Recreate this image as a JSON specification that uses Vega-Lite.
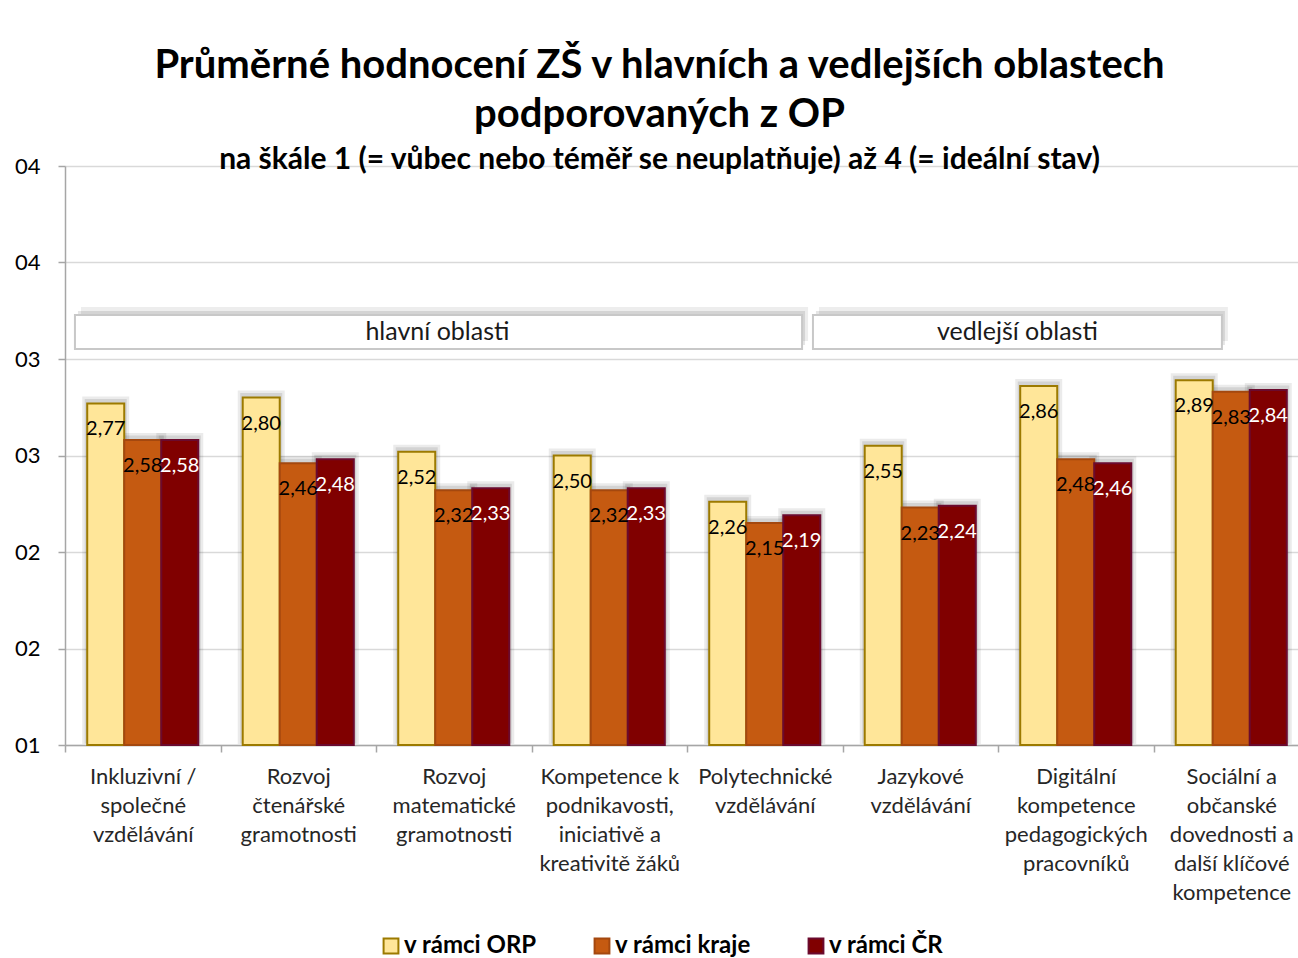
{
  "$schema": "https://vega.github.io/schema/vega-lite/v6.json",
  "width": 1233,
  "height": 579,
  "autosize": {"type": "none"},
  "padding": {"left": 65, "top": 166, "right": 0, "bottom": 213},
  "background": "white",
  "config": {
    "locale": {"number": {"decimal": ",", "thousands": " ", "grouping": [3], "currency": ["", " Kč"]}},
    "view": {"stroke": null},
    "font": "Lato"
  },
  "title": {
    "text": ["Průměrné hodnocení ZŠ v hlavních a vedlejších oblastech", "podporovaných z OP"],
    "subtitle": "na škále 1 (= vůbec nebo téměř se neuplatňuje) až 4 (= ideální stav)",
    "anchor": "middle",
    "frame": "group",
    "dx": -22,
    "offset": -20,
    "font": "Lato",
    "fontSize": 40,
    "fontWeight": "bold",
    "color": "#000000",
    "lineHeight": 49,
    "subtitleFont": "Lato",
    "subtitleFontSize": 30,
    "subtitleFontWeight": "bold",
    "subtitleColor": "#000000",
    "subtitlePadding": 10
  },
  "datasets": {
    "bars": [
      {"category": "Inkluzivní /\nspolečné\nvzdělávání", "series": "v rámci ORP", "value": 2.77},
      {"category": "Inkluzivní /\nspolečné\nvzdělávání", "series": "v rámci kraje", "value": 2.58},
      {"category": "Inkluzivní /\nspolečné\nvzdělávání", "series": "v rámci ČR", "value": 2.58},
      {"category": "Rozvoj\nčtenářské\ngramotnosti", "series": "v rámci ORP", "value": 2.80},
      {"category": "Rozvoj\nčtenářské\ngramotnosti", "series": "v rámci kraje", "value": 2.46},
      {"category": "Rozvoj\nčtenářské\ngramotnosti", "series": "v rámci ČR", "value": 2.48},
      {"category": "Rozvoj\nmatematické\ngramotnosti", "series": "v rámci ORP", "value": 2.52},
      {"category": "Rozvoj\nmatematické\ngramotnosti", "series": "v rámci kraje", "value": 2.32},
      {"category": "Rozvoj\nmatematické\ngramotnosti", "series": "v rámci ČR", "value": 2.33},
      {"category": "Kompetence k\npodnikavosti,\niniciativě a\nkreativitě žáků", "series": "v rámci ORP", "value": 2.50},
      {"category": "Kompetence k\npodnikavosti,\niniciativě a\nkreativitě žáků", "series": "v rámci kraje", "value": 2.32},
      {"category": "Kompetence k\npodnikavosti,\niniciativě a\nkreativitě žáků", "series": "v rámci ČR", "value": 2.33},
      {"category": "Polytechnické\nvzdělávání", "series": "v rámci ORP", "value": 2.26},
      {"category": "Polytechnické\nvzdělávání", "series": "v rámci kraje", "value": 2.15},
      {"category": "Polytechnické\nvzdělávání", "series": "v rámci ČR", "value": 2.19},
      {"category": "Jazykové\nvzdělávání", "series": "v rámci ORP", "value": 2.55},
      {"category": "Jazykové\nvzdělávání", "series": "v rámci kraje", "value": 2.23},
      {"category": "Jazykové\nvzdělávání", "series": "v rámci ČR", "value": 2.24},
      {"category": "Digitální\nkompetence\npedagogických\npracovníků", "series": "v rámci ORP", "value": 2.86},
      {"category": "Digitální\nkompetence\npedagogických\npracovníků", "series": "v rámci kraje", "value": 2.48},
      {"category": "Digitální\nkompetence\npedagogických\npracovníků", "series": "v rámci ČR", "value": 2.46},
      {"category": "Sociální a\nobčanské\ndovednosti a\ndalší klíčové\nkompetence", "series": "v rámci ORP", "value": 2.89},
      {"category": "Sociální a\nobčanské\ndovednosti a\ndalší klíčové\nkompetence", "series": "v rámci kraje", "value": 2.83},
      {"category": "Sociální a\nobčanské\ndovednosti a\ndalší klíčové\nkompetence", "series": "v rámci ČR", "value": 2.84}
    ],
    "boxes": [
      {"label": "hlavní oblasti", "start": 0.064, "end": 4.74, "mid": 2.395, "low": 3.052, "high": 3.228},
      {"label": "vedlejší oblasti", "start": 4.81, "end": 7.44, "mid": 6.125, "low": 3.052, "high": 3.228}
    ]
  },
  "resolve": {"scale": {"x": "independent"}, "axis": {"x": "independent", "y": "independent"}},
  "layer": [
    {
      "data": {"name": "bars"},
      "encoding": {
        "x": {
          "field": "category",
          "type": "nominal",
          "sort": null,
          "scale": {"range": [0, 1244], "paddingInner": 0, "paddingOuter": 0},
          "axis": {
            "title": null,
            "labelAngle": 0,
            "labelExpr": "split(datum.label, '\\n')",
            "tickBand": "extent",
            "labelFont": "Lato",
            "labelFontSize": 22,
            "labelColor": "#262626",
            "labelLineHeight": 29,
            "labelPadding": 14,
            "labelLimit": 0,
            "tickSize": 7,
            "tickColor": "#A6A6A6",
            "tickWidth": 1.5,
            "domainColor": "#A6A6A6",
            "domainWidth": 1.5,
            "grid": false
          }
        },
        "xOffset": {
          "field": "series",
          "type": "nominal",
          "sort": ["v rámci ORP", "v rámci kraje", "v rámci ČR"],
          "scale": {"paddingInner": 0, "paddingOuter": 0.6}
        },
        "y": {
          "field": "value",
          "type": "quantitative",
          "scale": {"domain": [1, 4], "nice": false, "zero": false},
          "axis": {
            "title": null,
            "values": [1, 1.5, 2, 2.5, 3, 3.5, 4],
            "format": "02.0f",
            "labelFont": "Lato",
            "labelFontSize": 22,
            "labelColor": "#000000",
            "labelPadding": 18,
            "tickSize": 7,
            "tickColor": "#A6A6A6",
            "tickWidth": 1.5,
            "domainColor": "#A6A6A6",
            "domainWidth": 1.5,
            "grid": true,
            "gridColor": "#D9D9D9",
            "gridWidth": 1.5
          }
        },
        "y2": {"datum": 1}
      },
      "layer": [
        {
          "mark": {"type": "bar", "fillOpacity": 0, "stroke": "#000000", "strokeOpacity": 0.08, "strokeWidth": 10, "yOffset": -2, "y2Offset": -6}
        },
        {
          "mark": {"type": "bar", "fillOpacity": 0, "stroke": "#000000", "strokeOpacity": 0.1, "strokeWidth": 5, "yOffset": -2, "y2Offset": -4}
        },
        {
          "mark": {"type": "bar", "strokeWidth": 2},
          "encoding": {
            "fill": {
              "field": "series",
              "type": "nominal",
              "scale": {"domain": ["v rámci ORP", "v rámci kraje", "v rámci ČR"], "range": ["#FFE699", "#C55A11", "#800000"]},
              "legend": {
                "orient": "none",
                "legendX": 314,
                "legendY": 768,
                "direction": "horizontal",
                "title": null,
                "symbolType": "square",
                "symbolSize": 220,
                "symbolStrokeWidth": 2,
                "labelOffset": 1,
                "labelFont": "Lato",
                "labelFontSize": 24,
                "labelFontWeight": "bold",
                "labelColor": "#000000",
                "columnPadding": 53
              }
            },
            "stroke": {
              "field": "series",
              "type": "nominal",
              "scale": {"domain": ["v rámci ORP", "v rámci kraje", "v rámci ČR"], "range": ["#9C7A00", "#A4480F", "#6B0A2E"]},
              "legend": {
                "orient": "none",
                "legendX": 314,
                "legendY": 768,
                "direction": "horizontal",
                "title": null,
                "symbolType": "square",
                "symbolSize": 220,
                "symbolStrokeWidth": 2,
                "labelOffset": 1,
                "labelFont": "Lato",
                "labelFontSize": 24,
                "labelFontWeight": "bold",
                "labelColor": "#000000",
                "columnPadding": 53
              }
            }
          }
        },
        {
          "mark": {"type": "text", "baseline": "middle", "align": "center", "dy": 26, "font": "Lato", "fontSize": 20},
          "encoding": {
            "text": {"field": "value", "type": "quantitative", "format": ".2f"},
            "color": {"condition": {"test": "datum.series === 'v rámci ČR'", "value": "#FFFFFF"}, "value": "#000000"}
          }
        }
      ]
    },
    {
      "data": {"name": "boxes"},
      "encoding": {
        "x": {"field": "start", "type": "quantitative", "scale": {"domain": [0, 8], "range": [0, 1244]}, "axis": null},
        "x2": {"field": "end"},
        "y": {"field": "low", "type": "quantitative", "axis": null},
        "y2": {"field": "high"}
      },
      "layer": [
        {"mark": {"type": "rect", "fill": "#000000", "opacity": 0.07, "xOffset": 6, "x2Offset": 6, "yOffset": -8, "y2Offset": -8}},
        {"mark": {"type": "rect", "fill": "#000000", "opacity": 0.1, "xOffset": 3, "x2Offset": 3, "yOffset": -4, "y2Offset": -4}},
        {"mark": {"type": "rect", "fill": "#FFFFFF", "stroke": "#C8C8C8", "strokeWidth": 2}},
        {
          "mark": {"type": "text", "align": "center", "baseline": "middle", "font": "Lato", "fontSize": 25, "color": "#1A1A1A"},
          "encoding": {
            "x": {"field": "mid", "type": "quantitative"},
            "y": {"datum": 3.14, "type": "quantitative"},
            "x2": null,
            "y2": null,
            "text": {"field": "label"}
          }
        }
      ]
    }
  ]
}
